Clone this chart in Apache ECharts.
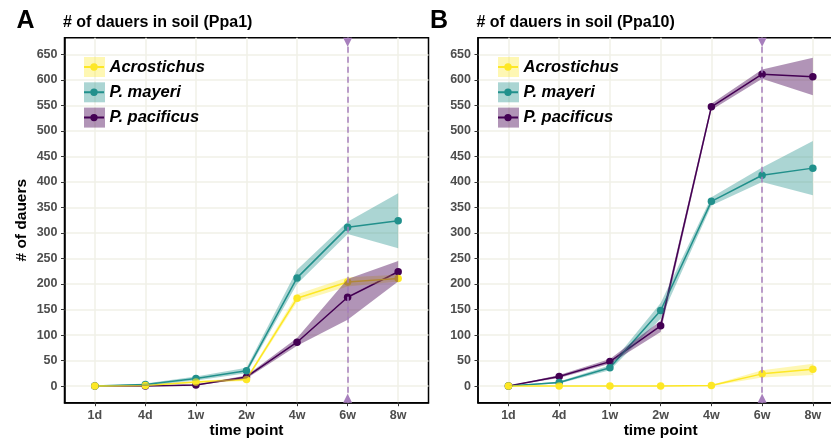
<!DOCTYPE html>
<html>
<head>
<meta charset="utf-8">
<script src="https://cdn.jsdelivr.net/npm/echarts@6/dist/echarts.min.js"></script>
<style>html,body{margin:0;padding:0;background:#fff}#chart{width:831px;height:443px}</style>
</head>
<body>
<div id="chart"></div>
<script>
// ---- data ----
const timePoints = ['1d', '4d', '1w', '2w', '4w', '6w', '8w'];
const yTickValues = [0, 50, 100, 150, 200, 250, 300, 350, 400, 450, 500, 550, 600, 650];
const speciesNames = ['Acrostichus', 'P. mayeri', 'P. pacificus'];
const markerTimePoint = '6w';
const panelLetters = ['A', 'B'];
const panelTitles = ['# of dauers in soil (Ppa1)', '# of dauers in soil (Ppa10)'];

// Panel A (Ppa1)
const ppa1Acro = [0, 1, 8, 13, 172, 204, 211];
const ppa1AcroLow = [0, 0, 6, 10, 165, 195, 205];
const ppa1AcroHigh = [1, 2, 10, 16, 180, 213, 218];
const ppa1Mayeri = [0, 3, 15, 30, 212, 311, 324];
const ppa1MayeriLow = [0, 1, 11, 25, 200, 298, 270];
const ppa1MayeriHigh = [0, 5, 19, 36, 228, 322, 378];
const ppa1Pacificus = [0, 0, 2, 18, 86, 174, 224];
const ppa1PacificusLow = [0, 0, 1, 15, 79, 130, 205];
const ppa1PacificusHigh = [0, 1, 3, 21, 94, 210, 245];

// Panel B (Ppa10)
const ppa10Acro = [0, 0, 0, 0, 1, 24, 33];
const ppa10AcroLow = [0, 0, 0, 0, 0, 17, 22];
const ppa10AcroHigh = [0, 0, 0, 0, 2, 31, 44];
const ppa10Mayeri = [0, 7, 36, 148, 362, 413, 427];
const ppa10MayeriLow = [0, 5, 31, 132, 354, 400, 374];
const ppa10MayeriHigh = [0, 9, 41, 163, 370, 428, 480];
const ppa10Pacificus = [0, 19, 48, 118, 547, 611, 606];
const ppa10PacificusLow = [0, 16, 44, 106, 541, 602, 570];
const ppa10PacificusHigh = [0, 22, 53, 128, 553, 620, 643];

// ---- styling ----
const lineColors = ['#FDE725', '#21908C', '#440154'];
const bandColors = ['rgba(253,231,37,0.35)', 'rgba(33,144,140,0.38)', 'rgba(68,1,84,0.42)'];
const FONT = "'Liberation Sans', Arial, Helvetica, sans-serif";
const yMin = -32.5, yMax = 682.5, xMin = -0.6, xMax = 6.6;
const grids = [
  { left: 64.5, top: 37.7, width: 364, height: 365 },
  { left: 478, top: 37.7, width: 365.3, height: 365 }
];
const legendPos = [{ left: 84, top: 57 }, { left: 498, top: 57 }];

const panels = [
  [[ppa1Acro, ppa1AcroLow, ppa1AcroHigh], [ppa1Mayeri, ppa1MayeriLow, ppa1MayeriHigh], [ppa1Pacificus, ppa1PacificusLow, ppa1PacificusHigh]],
  [[ppa10Acro, ppa10AcroLow, ppa10AcroHigh], [ppa10Mayeri, ppa10MayeriLow, ppa10MayeriHigh], [ppa10Pacificus, ppa10PacificusLow, ppa10PacificusHigh]]
];

const xCustom = timePoints.map((t, i) => i);
const markerIdx = timePoints.indexOf(markerTimePoint);
const bandName = n => n + ' ribbon';
const lineIcon = 'path://M0,0L0.01,0L0.01,0.01Z M19.99,19.99L20,19.99L20,20Z M0,9L20,9L20,11L0,11Z M10,6.3A3.7,3.7 0 1,1 10,13.7A3.7,3.7 0 1,1 10,6.3Z';

const option = {
  animation: false,
  backgroundColor: '#fff',
  title: [],
  legend: [],
  grid: [],
  xAxis: [],
  yAxis: [],
  series: []
};

panels.forEach((panel, gi) => {
  const g = grids[gi];
  option.grid.push({
    left: g.left, top: g.top, width: g.width, height: g.height,
    show: true, borderColor: '#000', borderWidth: 1.5, backgroundColor: '#fff',
    outerBoundsMode: 'none', containLabel: false
  });
  option.title.push({
    text: panelLetters[gi], left: g.left - 48, top: 9, padding: 0,
    textStyle: { fontFamily: FONT, fontSize: 25, fontWeight: 'bold', color: '#000' }
  });
  option.title.push({
    text: panelTitles[gi], left: g.left - 1.5, top: 15, padding: 0,
    textStyle: { fontFamily: FONT, fontSize: 16, fontWeight: 'bold', color: '#000' }
  });
  option.xAxis.push({
    gridIndex: gi, type: 'value', min: xMin, max: xMax,
    name: 'time point', nameLocation: 'middle', nameGap: 20, nameMoveOverlap: false,
    nameTextStyle: { fontFamily: FONT, fontSize: 15.5, fontWeight: 'bold', color: '#000' },
    axisLine: { show: true, onZero: false, lineStyle: { color: '#000', width: 1.5 } },
    axisTick: { show: true, customValues: xCustom, length: 3.5, lineStyle: { color: '#333', width: 1 } },
    axisLabel: { customValues: xCustom, formatter: v => timePoints[Math.round(v)], color: '#4d4d4d', fontFamily: FONT, fontSize: 12.5, fontWeight: 'bold', margin: 6 },
    splitLine: { show: true, lineStyle: { color: '#f0f0e7', width: 1.5 } }
  });
  option.yAxis.push({
    gridIndex: gi, type: 'value', min: yMin, max: yMax,
    name: gi === 0 ? '# of dauers' : '', nameLocation: 'middle', nameGap: 35, nameMoveOverlap: false,
    nameTextStyle: { fontFamily: FONT, fontSize: 15.5, fontWeight: 'bold', color: '#000' },
    axisLine: { show: true, onZero: false, lineStyle: { color: '#000', width: 1.5 } },
    axisTick: { show: true, customValues: yTickValues, length: 3.5, lineStyle: { color: '#333', width: 1 } },
    axisLabel: { customValues: yTickValues, color: '#4d4d4d', fontFamily: FONT, fontSize: 12.5, fontWeight: 'bold', margin: 7 },
    splitLine: { show: true, lineStyle: { color: '#f0f0e7', width: 1.5 } }
  });

  // ribbons as polygons through the axis scales
  panel.forEach((sp, k) => {
    const [vals, lo, hi] = sp;
    option.series.push({
      type: 'custom', name: bandName(speciesNames[k]), xAxisIndex: gi, yAxisIndex: gi,
      coordinateSystem: 'cartesian2d', silent: true, z: 3,
      itemStyle: { color: bandColors[k] },
      data: [[0, lo[0], hi[0]]],
      encode: { x: 0, y: [1, 2] },
      renderItem: (params, api) => {
        const pts = [];
        hi.forEach((v, i) => pts.push(api.coord([i, v])));
        for (let i = lo.length - 1; i >= 0; i--) pts.push(api.coord([i, lo[i]]));
        return { type: 'polygon', shape: { points: pts }, style: { fill: bandColors[k] } };
      }
    });
  });
  // lines (pacificus first so Acrostichus ends on top)
  [2, 1, 0].forEach(k => {
    const vals = panel[k][0];
    option.series.push({
      type: 'line', name: speciesNames[k], xAxisIndex: gi, yAxisIndex: gi,
      data: vals.map((v, i) => [i, v]), symbol: 'circle', symbolSize: 7.5,
      itemStyle: { color: lineColors[k] }, lineStyle: { color: lineColors[k], width: 1.5 }, z: 2
    });
  });
  // 6w marker
  option.series.push({
    type: 'line', name: '_marker' + gi, xAxisIndex: gi, yAxisIndex: gi, data: [], z: 4, silent: true,
    markLine: {
      silent: true, symbol: ['none', 'none'], label: { show: false },
      lineStyle: { color: '#a77fbd', type: [6, 4], width: 1.5 },
      data: [[{ coord: [markerIdx, yMin] }, { coord: [markerIdx, yMax] }]]
    },
    markPoint: {
      silent: true, symbol: 'triangle', symbolSize: [9, 9], label: { show: false },
      itemStyle: { color: '#a77fbd' },
      data: [
        { coord: [markerIdx, yMax], symbolRotate: 180, symbolOffset: [0, 4.5] },
        { coord: [markerIdx, yMin], symbolOffset: [0, -4.5] }
      ]
    }
  });

  // legends: ribbon boxes + line icons overlaid
  const lp = legendPos[gi];
  option.legend.push({
    orient: 'vertical', left: lp.left, top: lp.top, padding: 0, itemGap: 5.3,
    itemWidth: 21, itemHeight: 20, selectedMode: false, icon: 'rect',
    data: speciesNames.map((n, k) => ({ name: bandName(n), icon: 'rect', itemStyle: { color: bandColors[k] } })),
    textStyle: { color: 'transparent', fontFamily: FONT, fontSize: 16.5, fontStyle: 'italic', fontWeight: 'bold', lineHeight: 20 },
    formatter: n => n.replace(' ribbon', '')
  });
  option.legend.push({
    orient: 'vertical', left: lp.left, top: lp.top, padding: 0, itemGap: 5.3,
    itemWidth: 21, itemHeight: 20, selectedMode: false,
    data: speciesNames.map((n, k) => ({ name: n, icon: lineIcon, itemStyle: { color: lineColors[k] } })),
    textStyle: { color: '#000', fontFamily: FONT, fontSize: 16.5, fontStyle: 'italic', fontWeight: 'bold', lineHeight: 20 }
  });
});

const chart = echarts.init(document.getElementById('chart'), null, { renderer: 'canvas' });
chart.setOption(option);
</script>
</body>
</html>
